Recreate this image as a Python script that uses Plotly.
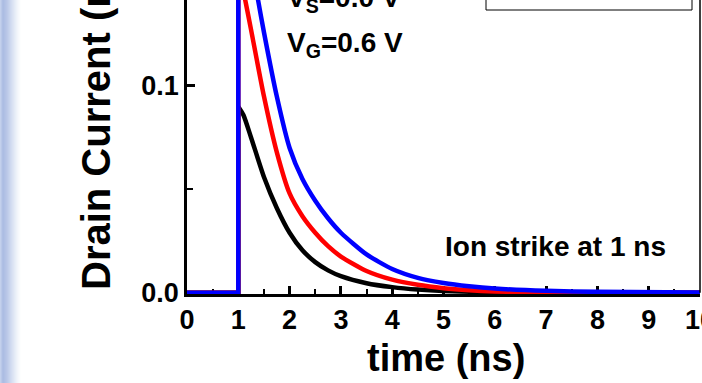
import plotly.graph_objects as go

# ---------------- data ----------------
t_black = [0, 1.0, 1.0, 1.1, 1.25, 1.5, 1.75, 2.0, 2.25, 2.5, 2.75, 3.0, 3.5, 4.0, 4.5, 5.0, 6.0, 7.0, 10.0]
i_black = [0, 0, 0.090, 0.086, 0.075, 0.056, 0.041, 0.029, 0.0205, 0.0148, 0.0108, 0.0080, 0.0046, 0.0027, 0.0015, 0.0008, 0.0002, 0.0, 0.0]

t_red = [0, 1.0, 1.0, 1.1, 1.25, 1.5, 1.75, 2.0, 2.25, 2.5, 2.75, 3.0, 3.5, 4.0, 4.5, 5.0, 5.5, 6.0, 7.0, 10.0]
i_red = [0, 0, 0.158, 0.146, 0.127, 0.095, 0.068, 0.048, 0.037, 0.029, 0.0225, 0.0175, 0.0105, 0.0063, 0.0038, 0.0022, 0.0012, 0.0006, 0.0001, 0.0]

t_blue = [0, 1.0, 1.0, 1.1, 1.25, 1.385, 1.5, 1.75, 2.0, 2.25, 2.5, 2.75, 3.0, 3.5, 4.0, 4.5, 5.0, 5.5, 6.0, 7.0, 8.0, 10.0]
i_blue = [0, 0, 0.205, 0.190, 0.163, 0.1416, 0.126, 0.095, 0.070, 0.055, 0.0445, 0.036, 0.029, 0.0185, 0.0115, 0.0072, 0.0047, 0.0031, 0.0020, 0.0009, 0.0004, 0.0001]

x_ticks = [0, 1, 2, 3, 4, 5, 6, 7, 8, 9, 10]
y_ticks = [0.0, 0.1]
y_tick_labels = ["0.0", "0.1"]

# ---------------- layout helpers ----------------
W, H = 702, 383
ML, MR, MT, MB = 187, 2, 0, 89
PW = W - ML - MR
PH = H - MT - MB
FONT = "Liberation Sans, Arial, Helvetica, sans-serif"


def px(x):
    return (x - ML) / PW


def py(y):
    return (H - MB - y) / PH


fig = go.Figure()
rises = []
for t, i, c in [(t_black, i_black, "#000000"), (t_red, i_red, "#ff0000"), (t_blue, i_blue, "#0000ff")]:
    # smooth decay (spline) after the strike
    fig.add_trace(go.Scatter(x=t[2:], y=i[2:], mode="lines",
                             line=dict(color=c, width=4.5, shape="spline", smoothing=0.6),
                             showlegend=False, hoverinfo="skip"))
    rises.append((t[:3], i[:3], c))
# vertical rise at the strike (linear), blue drawn last / on top
for t, i, c in rises:
    fig.add_trace(go.Scatter(x=t, y=i, mode="lines", line=dict(color=c, width=4.5),
                             showlegend=False, hoverinfo="skip"))

shapes = []
# left gradient strip
stops = [(0, (200, 212, 238)), (3, (170, 187, 226)), (7, (186, 200, 232)),
         (12, (214, 223, 242)), (17, (240, 244, 250)), (21, (255, 255, 255))]


def col_at(x):
    for (x0, c0), (x1, c1) in zip(stops[:-1], stops[1:]):
        if x0 <= x <= x1:
            f = (x - x0) / (x1 - x0)
            return "rgb(%d,%d,%d)" % tuple(round(a + (b - a) * f) for a, b in zip(c0, c1))
    return "white"


for k in range(21):
    shapes.append(dict(type="rect", xref="paper", yref="paper", x0=px(k), x1=px(k + 1),
                       y0=py(H), y1=py(0), fillcolor=col_at(k + 0.5), line=dict(width=0),
                       layer="below"))
# right frame line
shapes.append(dict(type="line", xref="paper", yref="paper", x0=1, x1=1, y0=py(292.7), y1=1,
                   line=dict(color="black", width=1.5)))
# legend box (cropped)
shapes.append(dict(type="rect", xref="paper", yref="paper", x0=px(486), x1=px(692),
                   y0=py(10), y1=py(-60), fillcolor="white", line=dict(color="black", width=1)))

annotations = [
    dict(text="<b>Drain Current (mA)</b>", textangle=-90, x=px(96), y=py(110),
         xref="paper", yref="paper", xanchor="center", yanchor="middle", showarrow=False,
         font=dict(family=FONT, size=40, color="black")),
    dict(text="<b>time (ns)</b>", x=px(446), y=py(358), xref="paper", yref="paper",
         xanchor="center", yanchor="middle", showarrow=False,
         font=dict(family=FONT, size=38, color="black")),
    dict(text="<b>Ion strike at 1 ns</b>", x=px(443), y=py(247), xref="paper", yref="paper",
         xanchor="left", yanchor="middle", showarrow=False,
         font=dict(family=FONT, size=28, color="black")),
    dict(text="<b>V<sub>G</sub>=0.6 V</b>", x=px(285), y=py(44), xref="paper", yref="paper",
         xanchor="left", yanchor="middle", showarrow=False,
         font=dict(family=FONT, size=28, color="black")),
    dict(text="<b>V<sub>S</sub>=0.0 V</b>", x=px(285), y=py(-1), xref="paper", yref="paper",
         xanchor="left", yanchor="middle", showarrow=False,
         font=dict(family=FONT, size=28, color="black")),
    dict(text="<b>m</b>", x=px(587), y=py(7), xref="paper", yref="paper",
         xanchor="center", yanchor="bottom", showarrow=False,
         font=dict(family=FONT, size=22, color="black")),
]

fig.update_layout(
    width=W, height=H, margin=dict(l=ML, r=MR, t=MT, b=MB, pad=0, autoexpand=False),
    paper_bgcolor="white", plot_bgcolor="white",
    shapes=shapes, annotations=annotations, showlegend=False,
    xaxis=dict(range=[0, 10], tickvals=x_ticks, ticks="inside", ticklen=8, tickwidth=2.5,
               tickcolor="black", showline=True, linecolor="black", linewidth=2.7,
               showgrid=False, zeroline=False, layer="below traces", automargin=False,
               ticklabeloverflow="allow",
               tickfont=dict(family=FONT, size=27, color="black", weight="bold"),
               minor=dict(dtick=0.5, ticks="inside", ticklen=5, tickwidth=2, tickcolor="black")),
    yaxis=dict(range=[-0.00063, 0.1416], tickvals=y_ticks, ticktext=y_tick_labels,
               ticks="inside", ticklen=8, tickwidth=2.5, tickcolor="black",
               showline=True, linecolor="black", linewidth=2.7, showgrid=False, zeroline=False,
               layer="below traces", automargin=False, ticklabeloverflow="allow",
               tickfont=dict(family=FONT, size=27, color="black", weight="bold"),
               minor=dict(tickvals=[0.05], ticks="inside", ticklen=6, tickwidth=2, tickcolor="black")),
)

fig.write_html("out.html", config={"displayModeBar": False},
               post_script="document.body.style.margin='0';document.body.style.overflow='hidden';")
